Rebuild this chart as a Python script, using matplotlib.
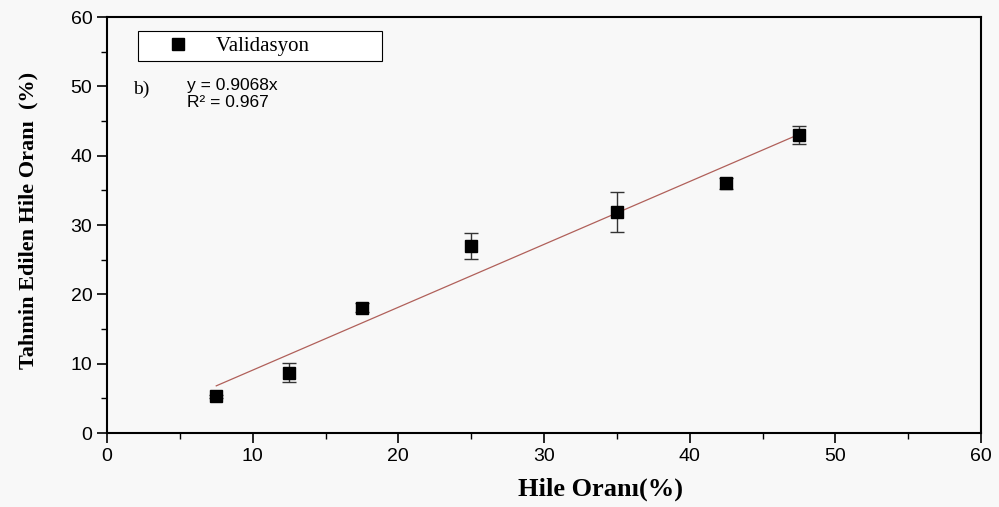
import numpy as np
import matplotlib.pyplot as plt
from matplotlib.ticker import MultipleLocator
from matplotlib.lines import Line2D

# Veriler
hile_orani = [7.5, 12.5, 17.5, 25, 35, 42.5, 47.5]
tahmin = [5.3, 8.7, 18.1, 27.0, 31.9, 36.0, 43.0]
hata = [0.2, 1.4, 0.6, 1.9, 2.9, 0.8, 1.3]
egim = 0.9068
r2 = 0.967

fig = plt.figure(figsize=(9.99, 5.07), dpi=100, facecolor='#f8f8f8')
ax = fig.add_axes([107/999, 1 - 433/507, (981 - 107)/999, (433 - 17)/507])
ax.set_facecolor('#f8f8f8')

# Regresyon doğrusu
xl = np.array([hile_orani[0], hile_orani[-1]])
ax.plot(xl, egim * xl, color='#b0605a', linewidth=0.9, zorder=2)

# Noktalar ve hata çubukları
ax.errorbar(hile_orani, tahmin, yerr=hata, fmt='s', color='black', ms=9,
            ecolor='#333333', elinewidth=1.0, capsize=5, capthick=1.0,
            zorder=3)

ax.set_xlim(0, 60)
ax.set_ylim(0, 60)
ax.xaxis.set_major_locator(MultipleLocator(10))
ax.xaxis.set_minor_locator(MultipleLocator(5))
ax.yaxis.set_major_locator(MultipleLocator(10))
ax.yaxis.set_minor_locator(MultipleLocator(5))
ax.tick_params(which='major', direction='out', length=7, width=1.2, labelsize=14)
ax.tick_params(which='minor', direction='out', length=4, width=1.0)
for lab in ax.get_xticklabels() + ax.get_yticklabels():
    lab.set_family('Liberation Sans')
for s in ax.spines.values():
    s.set_linewidth(1.5)

handle = Line2D([], [], marker='s', color='black', linestyle='none', ms=8)
leg = ax.legend([handle], ['Validasyon             '], loc='upper left',
                bbox_to_anchor=(0.035, 0.966), frameon=True,
                fancybox=False, edgecolor='black', framealpha=1, facecolor='white',
                prop={'family': 'Liberation Serif', 'size': 15},
                handletextpad=0.1, borderpad=0.25, handlelength=3.4,
                borderaxespad=0)
leg.get_frame().set_linewidth(0.8)

ax.text(0.03, 0.825, 'b)', transform=ax.transAxes, family='Liberation Serif',
        fontsize=14, va='center')
ax.text(0.0915, 0.836, 'y = %.4fx' % egim, transform=ax.transAxes,
        family='Liberation Sans', fontsize=12.5, va='center')
ax.text(0.0915, 0.795, 'R² = %.3f' % r2, transform=ax.transAxes,
        family='Liberation Sans', fontsize=12.5, va='center')

fig.text(601/999, 1 - 489/507, 'Hile Oranı(%)', ha='center', va='center',
         family='Liberation Serif', fontweight='bold', fontsize=19)
fig.text(28/999, 1 - 220/507, 'Tahmin Edilen Hile Oranı  (%)', ha='center',
         va='center', rotation=90, family='Liberation Serif',
         fontweight='bold', fontsize=16)

fig.savefig('out.png', dpi=100, facecolor=fig.get_facecolor())
